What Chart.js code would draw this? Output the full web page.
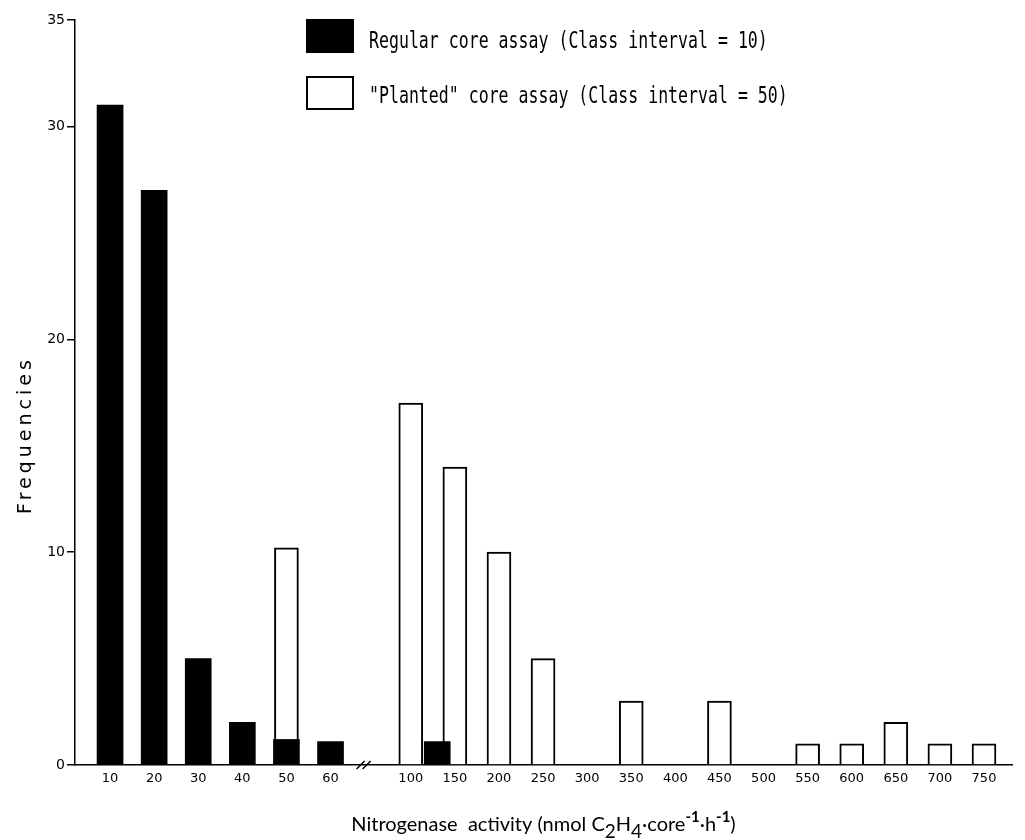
<!DOCTYPE html>
<html>
<head>
<meta charset="utf-8">
<script src="https://cdn.jsdelivr.net/npm/chart.js@4.4.1/dist/chart.umd.min.js"></script>
<style>
    html, body { margin: 0; padding: 0; background: #fff; }
    #wrap { width: 1025px; height: 840px; }
</style>
</head>
<body>
<div id="wrap"><canvas id="histChart"></canvas></div>
<script>
// Frequency histogram of nitrogenase activity, two assay types on a broken x axis
const regularClasses = [10, 20, 30, 40, 50, 60, 130];
const regularFreq = [31, 27, 5, 2, 1.2, 1.1, 1.1];
const plantedClasses = [50, 100, 150, 200, 250, 300, 350, 400, 450, 500, 550, 600, 650, 700, 750];
const plantedFreq = [10.2, 17, 14, 10, 5, 0, 3, 0, 3, 0, 1, 1, 2, 1, 1];
const xTickLabels = [10, 20, 30, 40, 50, 60, 100, 150, 200, 250, 300, 350, 400, 450, 500, 550, 600, 650, 700, 750];
const yTickValues = [0, 10, 20, 30, 35];

const regularLabel = 'Regular core assay (Class interval = 10)';
const plantedLabel = '"Planted" core assay (Class interval = 50)';
const yTitle = 'Frequencies';
const xTitleParts = [
    { t: 'Nitrogenase  activity (nmol C' },
    { t: '2', sub: true },
    { t: 'H' },
    { t: '4', sub: true },
    { t: '\u00B7core' },
    { t: '-1', sup: true },
    { t: '\u00B7h' },
    { t: '-1', sup: true },
    { t: ')' }
];

// broken axis: one slot per 10 up to 60, then one slot per 50 from 100
function slot(v) {
    if (v <= 60) return (v - 10) / 10;
    return 6.82 + (v - 100) / 50;
}

function partFont(p) {
    if (p.sub) return '19px Lato';
    if (p.sup) return 'bold 15px Lato';
    return '20px Lato';
}

const extras = {
    id: 'extras',
    afterDraw(chart) {
        const ctx = chart.ctx;
        const xs = chart.scales.x, ys = chart.scales.y;
        ctx.save();

        // axis break marks
        const bx = xs.getPixelForValue(slot(60) + 0.75);
        const by = ys.getPixelForValue(0);
        ctx.strokeStyle = '#000';
        ctx.lineWidth = 1.5;
        [-3, 3].forEach(d => {
            ctx.beginPath();
            ctx.moveTo(bx + d - 4, by + 4);
            ctx.lineTo(bx + d + 4, by - 4);
            ctx.stroke();
        });

        // legend
        chart.data.datasets.forEach((ds, i) => {
            const top = 19 + i * 57;
            ctx.fillStyle = ds.backgroundColor;
            ctx.fillRect(306, top, 48, 34);
            if (ds.borderWidth) {
                ctx.lineWidth = 2;
                ctx.strokeStyle = ds.borderColor;
                ctx.strokeRect(307, top + 1, 46, 32);
            }
            ctx.save();
            ctx.translate(369, top + 29 - i * 2);
            ctx.scale(0.72, 1);
            ctx.font = '23px "DejaVu Sans Mono"';
            ctx.fillStyle = '#000';
            ctx.textAlign = 'left';
            ctx.textBaseline = 'alphabetic';
            ctx.fillText(ds.label, 0, 0);
            ctx.restore();
        });

        // y title
        ctx.save();
        ctx.translate(26, 435);
        ctx.rotate(-Math.PI / 2);
        ctx.font = '19px "DejaVu Sans"';
        ctx.letterSpacing = '4px';
        ctx.fillStyle = '#000';
        ctx.textAlign = 'center';
        ctx.textBaseline = 'middle';
        ctx.fillText(yTitle, 0, 0);
        ctx.restore();

        // x title with sub/superscripts
        let total = 0;
        xTitleParts.forEach(p => {
            ctx.font = partFont(p);
            total += ctx.measureText(p.t).width;
        });
        let tx = (chart.chartArea.left + chart.chartArea.right) / 2 - total / 2;
        const base = 831;
        ctx.fillStyle = '#000';
        ctx.textAlign = 'left';
        ctx.textBaseline = 'alphabetic';
        xTitleParts.forEach(p => {
            ctx.font = partFont(p);
            const dy = p.sub ? 7 : (p.sup ? -9 : 0);
            ctx.fillText(p.t, tx, base + dy);
            tx += ctx.measureText(p.t).width;
        });

        ctx.restore();
    }
};

new Chart(document.getElementById('histChart'), {
    type: 'bar',
    data: {
        datasets: [
            {
                label: regularLabel,
                data: regularClasses.map((c, i) => ({ x: slot(c), y: regularFreq[i] })),
                backgroundColor: '#000',
                borderColor: '#000',
                borderWidth: 0,
                barThickness: 26,
                grouped: false
            },
            {
                label: plantedLabel,
                data: plantedClasses.map((c, i) => ({ x: slot(c), y: plantedFreq[i] })),
                backgroundColor: '#fff',
                borderColor: '#000',
                borderWidth: 2,
                barThickness: 24,
                grouped: false
            }
        ]
    },
    options: {
        responsive: true,
        maintainAspectRatio: false,
        animation: false,
        layout: { padding: { top: 20, right: 13, bottom: 0, left: 0 } },
        plugins: {
            legend: { display: false },
            tooltip: { enabled: false }
        },
        scales: {
            x: {
                type: 'linear',
                min: -0.795,
                max: 20.455,
                offset: false,
                grid: { display: false, drawTicks: false },
                border: { color: '#000', width: 1.5 },
                afterBuildTicks: function(scale) {
                    scale.ticks = xTickLabels.map(v => ({ value: slot(v) }));
                },
                afterFit: function(scale) {
                    scale.height = 75;
                },
                ticks: {
                    autoSkip: false,
                    maxRotation: 0,
                    padding: 6,
                    color: '#000',
                    font: { family: 'DejaVu Sans', size: 13 },
                    callback: function(value, index) {
                        return String(xTickLabels[index]);
                    }
                }
            },
            y: {
                min: 0,
                max: 35,
                afterBuildTicks: function(scale) {
                    scale.ticks = yTickValues.map(v => ({ value: v }));
                },
                afterFit: function(scale) {
                    scale.width = 75;
                },
                grid: { drawOnChartArea: false, color: '#000', lineWidth: 1.5, tickLength: 8 },
                border: { color: '#000', width: 1.5 },
                ticks: {
                    padding: 2,
                    color: '#000',
                    font: { family: 'DejaVu Sans', size: 14 }
                }
            }
        }
    },
    plugins: [extras]
});
</script>
</body>
</html>
